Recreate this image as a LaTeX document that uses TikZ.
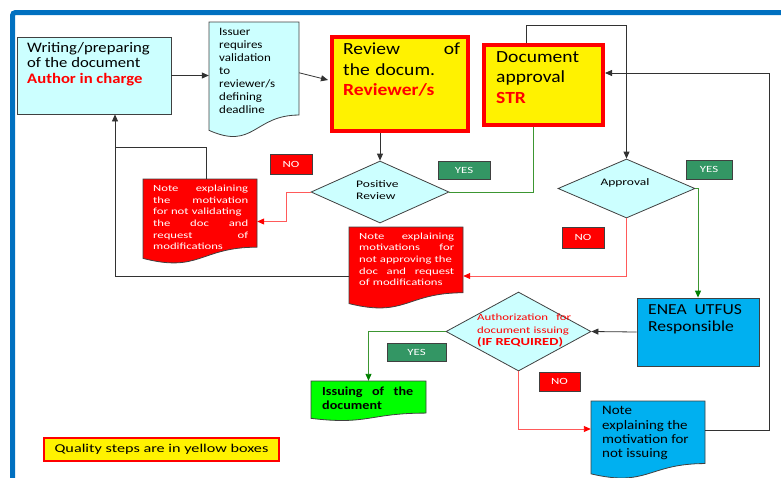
\documentclass[tikz,border=0pt]{standalone}
\usepackage{fontspec}
\setmainfont{Carlito}[FakeStretch=1.15]
\newfontfamily\wide{Carlito}[FakeStretch=1.35]
\usetikzlibrary{arrows.meta,shapes.geometric,calc,shadows}
\definecolor{lcyan}{RGB}{204,255,255}
\definecolor{frameblue}{RGB}{0,112,192}
\definecolor{eneablue}{RGB}{0,176,240}
\definecolor{yesgreen}{RGB}{51,150,100}
\definecolor{brightgreen}{RGB}{0,255,0}
\definecolor{lnred}{RGB}{255,90,90}
\definecolor{lngreen}{RGB}{60,150,50}
\definecolor{bord}{RGB}{64,64,64}
\definecolor{lngray}{RGB}{50,50,50}
\newcommand\fs[2]{\fontsize{#1}{#2}\selectfont}
\newcommand\docshape[6]{%
  \pgfmathsetmacro\dw{#5-#3}\pgfmathsetmacro\dh{#6-#4}%
  \draw[#2] (#3,#4) -- (#5,#4) -- (#5,{#4+0.802*\dh}) .. controls ({#3+0.5*\dw},{#4+0.802*\dh}) and ({#3+0.5*\dw},{#4+1.107*\dh}) .. (#3,{#4+0.934*\dh}) -- cycle;
  \node[inner sep=0pt, minimum width=\dw, minimum height=\dh] (#1) at ({(#3+#5)/2},{(#4+#6)/2}) {};
}
\tikzset{
  box/.style={draw=bord, line width=0.8pt, inner sep=0pt},
  qbox/.style={draw=red, line width=4pt, fill=yellow, inner sep=0pt, drop shadow={opacity=0.3,shadow xshift=2pt,shadow yshift=-2pt}},
  dia/.style={diamond, draw=bord, line width=0.8pt, fill=lcyan, inner sep=0pt},
  lab/.style={draw=bord, line width=0.8pt, inner sep=0pt, text=white, font=\wide\fs{9.5}{10}},
  txt/.style={inner sep=0pt, anchor=north west, align=left},
  doc/.style={draw=bord, line width=0.8pt},
  blk/.style={draw=lngray, line width=0.8pt, -{Triangle[length=7pt,width=6pt]}},
  plain/.style={draw=lngray, line width=0.8pt},
  redl/.style={draw=lnred, line width=0.9pt, -{Triangle[length=7pt,width=6pt,color=red]}},
  grnl/.style={draw=lngreen, line width=0.9pt, -{Triangle[length=7pt,width=6pt,color=green!50!black]}},
  grnplain/.style={draw=lngreen, line width=0.9pt}
}
\begin{document}
\begin{tikzpicture}[x=1pt,y=-1pt]
\useasboundingbox (0,0) rectangle (781,477);
% frame
\draw[frameblue, line width=5pt, rounded corners=3pt] (12.5,480) -- (12.5,12.5) -- (785,12.5);

% box 1
\node[box, fill=lcyan, minimum width=154, minimum height=77] (box1) at (94,75.5) {};
\node[txt, font=\fs{14.5}{15.5}] (box1t) at (27,42) {Writing/preparing\\of the document\\{\bfseries\color{red}Author in charge}};

% issuer document
\docshape{issuer}{doc, fill=lcyan}{209}{22}{299}{138}
\node[txt, font=\fs{11.3}{12.9}] (issuert) at (219,28.5) {Issuer\\requires\\validation\\to\\reviewer/s\\defining\\deadline};

% review
\node[qbox, minimum width=136, minimum height=94] (review) at (400,84) {};
\node[txt, text width=117, font=\fs{17}{20.2}] (reviewt) at (343,43) {Review\hfill of\\the docum.\\{\bfseries\color{red}Reviewer/s}};

% document approval
\node[qbox, minimum width=119, minimum height=80] (docappr) at (543.5,85) {};
\node[txt, font=\fs{17}{20.5}] (docapprt) at (496,51) {Document\\approval\\{\bfseries\color{red}STR}};

% positive review diamond
\node[dia, minimum width=138, minimum height=62] (pos) at (380,192) {};
\node[txt, font=\wide\fs{10}{11.7}] (post) at (356,180.5) {Positive\\Review};

% approval diamond
\node[dia, minimum width=137, minimum height=59] (appr) at (626.5,188.5) {};
\node[inner sep=0pt, font=\wide\fs{10}{11}] (apprt) at (625,183) {Approval};

% note 1
\docshape{note1}{doc, fill=red}{143}{179}{257}{264}
\node[txt, text width=95, text=white, font=\wide\fs{9.4}{11.6}] (note1t) at (153,185) {Note\hfill explaining\\the\hfill motivation\\\mbox{for not validating}\\the\hfill doc\hfill and\\request\hfill of\\modifications};

% note 2
\docshape{note2}{doc, fill=red}{349}{227}{463}{309}
\node[txt, text width=95, text=white, font=\wide\fs{9.4}{11.6}] (note2t) at (359,232.5) {Note\hfill explaining\\motivations\hfill for\\\mbox{not approving the}\\doc\hfill and\hfill request\\\mbox{of modifications}};

% ENEA
\node[box, fill=eneablue, minimum width=122, minimum height=68] (enea) at (698,332) {};
\node[txt, font=\fs{15.3}{17}] (eneat) at (648,304) {ENEA\ \ UTFUS\\Responsible};

% authorization diamond
\node[dia, minimum width=145, minimum height=79] (auth) at (518.5,331.5) {};
\node[txt, text width=94, text=red, font=\wide\fs{9.5}{12.5}] (autht) at (477,314) {Authorization\hfill for\\\mbox{document issuing}\\\mbox{\bfseries\fs{10.8}{12.5}(IF REQUIRED)}};

% issuing
\docshape{issuing}{doc, fill=brightgreen}{311}{381}{426}{421}
\node[txt, text width=91, font=\bfseries\fs{12.3}{14.5}] (issuingt) at (322,386.5) {Issuing\hfill of\hfill the\\document};

% note not issuing
\docshape{notiss}{doc, fill=eneablue}{591}{401}{705}{479}
\node[txt, font=\fs{13}{14.3}] (notisst) at (602,406.3) {Note\\explaining the\\motivation for\\not issuing};

% labels
\node[lab, fill=red, minimum width=42, minimum height=20] (no1) at (291,164) {NO};
\node[lab, fill=yesgreen, minimum width=52, minimum height=18] (yes1) at (464,170) {YES};
\node[lab, fill=yesgreen, minimum width=46, minimum height=19] (yes2) at (709,169.5) {YES};
\node[lab, fill=red, minimum width=42, minimum height=21] (no2) at (583,237.5) {NO};
\node[lab, fill=yesgreen, minimum width=59, minimum height=18] (yes3) at (416.5,352) {YES};
\node[lab, fill=red, minimum width=41, minimum height=19] (no3) at (559.5,381.5) {NO};

% legend
\node[draw=red, line width=2pt, fill=yellow, minimum width=235, minimum height=23, inner sep=0pt, font=\wide\fs{12}{13}] (legend) at (161.5,449.5) {Quality steps are in yellow boxes};

% connectors
\coordinate (j1) at (115,147);
\draw[blk] (box1.east) -- (box1.east -| issuer.west);
\draw[blk] ($(issuer.north east)+(0,51)$) -- ($(review.north west)+(-2,45)$);
\draw[blk] (review.south -| pos.north) -- (pos.north);
\draw[grnplain] (pos.east) -| ($(docappr.south)+(-10,0)$);
\draw[redl] (pos.west) -- ++(-24,0) |- (note1.east);
\draw[plain] ($(note1.north)+(6,0)$) |- (j1);
\draw[blk] ($(note2.west)+(0,8)$) -| (box1.south -| j1);
\draw[blk] ($(docappr.north)+(-17,0)$) -- ++(0,-18) -| (appr.north);
\draw[redl] (appr.south) |- ($(note2.east)+(0,8)$);
\draw[grnl] (appr.east) -| (enea.north);
\draw[blk] (enea.west) -- (auth.east);
\draw[grnl] (auth.west) -| (issuing.north);
\draw[redl] (auth.south) |- ($(notiss.west)+(0,-11)$);
\draw[blk] ($(notiss.east)+(0,-10)$) -- ++(64,0) |- ($(docappr.east)+(0,-12)$);
\end{tikzpicture}
\end{document}
